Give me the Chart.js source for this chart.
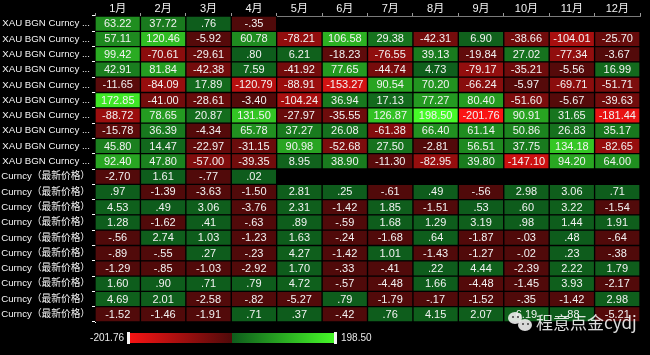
<!DOCTYPE html>
<html>
<head>
<meta charset="utf-8">
<script src="https://cdn.jsdelivr.net/npm/chart.js@4"></script>
<style>
  html, body { margin: 0; padding: 0; background: #000; }
  #wrap { width: 650px; height: 355px; position: relative; }
</style>
</head>
<body>
<div id="wrap"><canvas id="c" width="650" height="355"></canvas></div>
<script>
// Column headers (months)
const months = ['1月', '2月', '3月', '4月', '5月', '6月', '7月', '8月', '9月', '10月', '11月', '12月'];

// Row labels: ten gold rows, then ten dollar-index rows
const goldLabels = Array(10).fill('XAU BGN Curncy ...');
const dxyLabels = Array(10).fill('DXY Curncy（最新价格）');
const rowLabels = goldLabels.concat(dxyLabels);

// Monthly changes, gold (XAU), newest year first
const xau1  = [63.22, 37.72, 0.76, -0.35, null, null, null, null, null, null, null, null];
const xau2  = [57.11, 120.46, -5.92, 60.78, -78.21, 106.58, 29.38, -42.31, 6.90, -38.66, -104.01, -25.70];
const xau3  = [99.42, -70.61, -29.61, 0.80, 6.21, -18.23, -76.55, 39.13, -19.84, 27.02, -77.34, -3.67];
const xau4  = [42.91, 81.84, -42.38, 7.59, -41.92, 77.65, -44.74, 4.73, -79.17, -35.21, -5.56, 16.99];
const xau5  = [-11.65, -84.09, 17.89, -120.79, -88.91, -153.27, 90.54, 70.20, -66.24, -5.97, -69.71, -51.71];
const xau6  = [172.85, -41.00, -28.61, -3.40, -104.24, 36.94, 17.13, 77.27, 80.40, -51.60, -5.67, -39.63];
const xau7  = [-88.72, 78.65, 20.87, 131.50, -27.97, -35.55, 126.87, 198.50, -201.76, 90.91, 31.65, -181.44];
const xau8  = [-15.78, 36.39, -4.34, 65.78, 37.27, 26.08, -61.38, 66.40, 61.14, 50.86, 26.83, 35.17];
const xau9  = [45.80, 14.47, -22.97, -31.15, 90.98, -52.68, 27.50, -2.81, 56.51, 37.75, 134.18, -82.65];
const xau10 = [92.40, 47.80, -57.00, -39.35, 8.95, 38.90, -11.30, -82.95, 39.80, -147.10, 94.20, 64.00];

// Monthly changes, dollar index, newest year first
const dxy1  = [-2.70, 1.61, -0.77, 0.02, null, null, null, null, null, null, null, null];
const dxy2  = [0.97, -1.39, -3.63, -1.50, 2.81, 0.25, -0.61, 0.49, -0.56, 2.98, 3.06, 0.71];
const dxy3  = [4.53, 0.49, 3.06, -3.76, 2.31, -1.42, 1.85, -1.51, 0.53, 0.60, 3.22, -1.54];
const dxy4  = [1.28, -1.62, 0.41, -0.63, 0.89, -0.59, 1.68, 1.29, 3.19, 0.98, 1.44, 1.91];
const dxy5  = [-0.56, 2.74, 1.03, -1.23, 1.63, -0.24, -1.68, 0.64, -1.87, -0.03, 0.48, -0.64];
const dxy6  = [-0.89, -0.55, 0.27, -0.23, 4.27, -1.42, 1.01, -1.43, -1.27, -0.02, 0.23, -0.38];
const dxy7  = [-1.29, -0.85, -1.03, -2.92, 1.70, -0.33, -0.41, 0.22, 4.44, -2.39, 2.22, 1.79];
const dxy8  = [1.60, 0.90, 0.71, 0.79, 4.72, -0.57, -4.48, 1.66, -4.48, -1.45, 3.93, -2.17];
const dxy9  = [4.69, 2.01, -2.58, -0.82, -5.27, 0.79, -1.79, -0.17, -1.52, -0.35, -1.42, 2.98];
const dxy10 = [-1.52, -1.46, -1.91, 0.71, 0.37, -0.42, 0.76, 4.15, 2.07, 6.19, 0.88, -5.21];

const grid = [xau1, xau2, xau3, xau4, xau5, xau6, xau7, xau8, xau9, xau10,
              dxy1, dxy2, dxy3, dxy4, dxy5, dxy6, dxy7, dxy8, dxy9, dxy10];

const allVals = grid.flat().filter(v => v !== null);
const minV = Math.min(...allVals);
const maxV = Math.max(...allVals);

// Shared diverging scale: dark red -> bright red, dark green -> bright green
function colorFor(v) {
  if (v >= 0) {
    const t = Math.min(1, v / maxV);
    return `rgb(${Math.round(14 + 56 * t)},${Math.round(92 + 158 * t)},${Math.round(28 + 12 * t)})`;
  }
  const t = Math.min(1, v / minV);
  return `rgb(${Math.round(80 + 170 * t)},${Math.round(10 + 10 * t)},${Math.round(10 + 10 * t)})`;
}

function fmt(v) {
  return v.toFixed(2).replace(/^(-?)0\./, '$1.');
}

const FONT = "'Liberation Sans', Arial, 'Noto Sans CJK SC', sans-serif";

// One dataset per month; each cell is a floating bar spanning that month's slot
const datasets = months.map((m, j) => ({
  label: m,
  data: grid.map(row => (row[j] === null ? null : [j, j + 1])),
  backgroundColor: ctx => {
    const v = grid[ctx.dataIndex][j];
    return v === null ? 'rgba(0,0,0,0)' : colorFor(v);
  },
  borderColor: '#000',
  borderWidth: 1,
  borderSkipped: false,
  barPercentage: 1,
  categoryPercentage: 1,
  grouped: false
}));

const cellText = {
  id: 'cellText',
  afterDatasetsDraw(chart) {
    const ctx = chart.ctx;
    ctx.save();
    ctx.font = '11px ' + FONT;
    ctx.fillStyle = '#f2f2f2';
    ctx.textAlign = 'center';
    ctx.textBaseline = 'middle';
    chart.data.datasets.forEach((ds, j) => {
      const meta = chart.getDatasetMeta(j);
      meta.data.forEach((bar, i) => {
        const v = grid[i][j];
        if (v === null) return;
        const p = bar.getCenterPoint();
        ctx.fillText(fmt(v), p.x, p.y + 0.5);
      });
    });
    ctx.restore();
  }
};

const colorBar = {
  id: 'colorBar',
  afterDraw(chart) {
    const ctx = chart.ctx;
    const x0 = 128, x1 = 336, y0 = 333, h = 10;
    ctx.save();
    const g = ctx.createLinearGradient(x0, 0, x1, 0);
    g.addColorStop(0, colorFor(minV));
    g.addColorStop(0.5, colorFor(-0.0001));
    g.addColorStop(0.5, colorFor(0));
    g.addColorStop(1, colorFor(maxV));
    ctx.fillStyle = g;
    ctx.fillRect(x0, y0, x1 - x0, h);
    // end caps
    ctx.fillStyle = '#f4f4f4';
    ctx.fillRect(x0 - 1, y0 - 1, 3, h + 2);
    ctx.fillRect(x1 - 2, y0 - 1, 3, h + 2);
    ctx.font = '10px ' + FONT;
    ctx.fillStyle = '#e8e8e8';
    ctx.textBaseline = 'middle';
    ctx.textAlign = 'right';
    ctx.fillText(fmt(minV), x0 - 4, y0 + h / 2);
    ctx.textAlign = 'left';
    ctx.fillText(fmt(maxV), x1 + 5, y0 + h / 2);

    // channel credit, bottom right
    ctx.globalAlpha = 0.9;
    ctx.fillStyle = '#f0f0f0';
    ctx.beginPath();
    ctx.ellipse(515, 318, 7, 6, 0, 0, Math.PI * 2);
    ctx.fill();
    ctx.beginPath();
    ctx.ellipse(525, 325, 7, 6, 0, 0, Math.PI * 2);
    ctx.fill();
    ctx.fillStyle = '#555';
    ctx.fillRect(512, 316, 2, 2);
    ctx.fillRect(517, 316, 2, 2);
    ctx.fillRect(522, 323, 2, 2);
    ctx.fillRect(527, 323, 2, 2);
    ctx.fillStyle = '#f4f4f4';
    ctx.font = "17px 'Noto Sans CJK SC', sans-serif";
    ctx.textAlign = 'left';
    ctx.textBaseline = 'middle';
    ctx.fillText('程意点金cydj', 536, 323);
    ctx.restore();
  }
};

new Chart(document.getElementById('c'), {
  type: 'bar',
  data: { labels: rowLabels, datasets },
  options: {
    indexAxis: 'y',
    responsive: false,
    animation: false,
    devicePixelRatio: 1,
    layout: { padding: { top: 0, right: 10, bottom: 33, left: 0 } },
    plugins: { legend: { display: false }, tooltip: { enabled: false } },
    scales: {
      x: { type: 'linear', min: 0, max: months.length, display: false },
      x2: {
        type: 'category',
        axis: 'x',
        labels: months,
        position: 'top',
        offset: true,
        grid: { offset: true, drawOnChartArea: false, tickLength: 3, color: '#9a9a9a' },
        border: { color: '#7a7a7a', width: 1 },
        ticks: { color: '#f2f2f2', font: { size: 11, family: FONT }, padding: -3, maxRotation: 0 },
        afterFit: s => { s.height = 16; }
      },
      y: {
        type: 'category',
        offset: true,
        grid: { offset: true, drawOnChartArea: false, tickLength: 3, color: '#ffffff' },
        border: { color: '#ffffff', width: 1 },
        ticks: { color: '#f4f4f4', font: { size: 9.7, family: FONT }, padding: 2, autoSkip: false },
        afterFit: s => { s.width = 95; }
      }
    }
  },
  plugins: [cellText, colorBar]
});
</script>
</body>
</html>
